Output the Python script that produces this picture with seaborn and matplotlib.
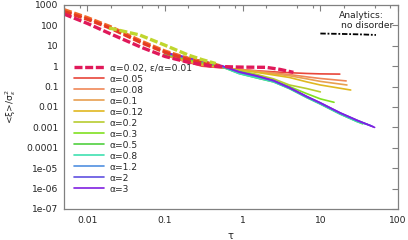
import numpy as np
import pandas as pd
import matplotlib
matplotlib.use('Agg')
import matplotlib.pyplot as plt
import matplotlib.ticker as mticker
import seaborn as sns

# --- data --------------------------------------------------------------
tau_a02 = [0.005, 0.01, 0.02, 0.05, 0.1, 0.2, 0.4, 0.7, 1.0, 2.0, 3.0, 4.5]
val_a02 = [360, 125, 38, 8.3, 3.0, 1.55, 1.0, 0.93, 0.9, 0.88, 0.7, 0.5]

tau_dash_red = [0.005, 0.01, 0.02, 0.05, 0.1, 0.2, 0.35, 0.5]
val_dash_red = [480, 200, 72, 14, 4.8, 2.1, 1.3, 1.0]
val_dash_orange = [590, 240, 85, 16.5, 5.5, 2.4, 1.45, 1.08]

tau_dash_yg = [0.019, 0.047, 0.098, 0.2, 0.3, 0.45]
val_dash_yg = [75, 34, 11, 3.5, 2.1, 1.35]

tau_base = [0.1, 0.15, 0.3, 0.55, 0.9, 1.5, 2.5, 4, 6.7, 10, 18, 30]

alphas = ['0.05', '0.08', '0.1', '0.12', '0.2', '0.3', '0.5', '0.8', '1.2', '2', '3']
tau_end = [17.8, 21.5, 22, 24.6, 10, 15, 35, 40, 45, 48, 50]
val_05 = [3.5, 2.1, 1.0, 0.82, 0.7, 0.6, 0.53, 0.48, 0.44, 0.42, 0.41]
val_08 = [3.6, 2.2, 1.1, 0.85, 0.7, 0.58, 0.47, 0.39, 0.3, 0.25, 0.19]
val_10 = [3.7, 2.3, 1.15, 0.87, 0.68, 0.55, 0.42, 0.34, 0.24, 0.18, 0.12]
val_12 = [3.8, 2.4, 1.2, 0.88, 0.66, 0.5, 0.37, 0.28, 0.17, 0.12, 0.068]
val_20 = [3.9, 2.6, 1.4, 0.9, 0.6, 0.4, 0.24, 0.12, 0.08, 0.055]
val_30 = [4.0, 2.7, 1.5, 0.9, 0.55, 0.35, 0.2, 0.1, 0.045, 0.025, 0.017]
val_50 = [4.2, 3.0, 1.7, 0.9, 0.44, 0.27, 0.17, 0.08, 0.029, 0.014, 0.0045, 0.0019, 0.0015]
val_80 = [4.3, 3.1, 1.75, 0.92, 0.43, 0.27, 0.17, 0.08, 0.029, 0.014, 0.0045, 0.0019, 0.0014]
val_120 = [4.4, 3.2, 1.75, 1.0, 0.5, 0.32, 0.19, 0.085, 0.031, 0.015, 0.0049, 0.0021, 0.0012]
val_200 = [4.5, 3.3, 1.8, 1.0, 0.52, 0.33, 0.19, 0.087, 0.032, 0.016, 0.0051, 0.0022, 0.00108]
val_300 = [4.5, 3.3, 1.8, 1.02, 0.53, 0.34, 0.2, 0.09, 0.033, 0.016, 0.0052, 0.0022, 0.001]
solid_vals = [val_05, val_08, val_10, val_12, val_20, val_30,
              val_50, val_80, val_120, val_200, val_300]
solid_colors = ['#e8463a', '#f08858', '#e8a050', '#e0b820', '#b8cc30', '#80e020',
                '#50d040', '#40e0b0', '#5090e0', '#6050e0', '#8020e0']

tau_analytic = [10, 20, 35, 52]
val_analytic = [40, 38, 36, 34]

xtick_vals = [0.01, 0.1, 1, 10, 100]
xtick_labels = ['0.01', '0.1', '1', '10', '100']
ytick_vals = [1e-7, 1e-6, 1e-5, 1e-4, 1e-3, 1e-2, 1e-1, 1, 10, 100, 1000]
ytick_labels = ['1e-07', '1e-06', '1e-05', '0.0001', '0.001', '0.01', '0.1',
                '1', '10', '100', '1000']

# --- figure -------------------------------------------------------------
sns.set_theme(style='white')
plt.rcParams['font.family'] = ['DejaVu Sans']
fs = 6.6

fig = plt.figure(figsize=(4.08, 2.40), dpi=100)
ax = fig.add_axes([64 / 408, 31 / 240, 334 / 408, 204 / 240])
ax.set_xscale('log')
ax.set_yscale('log')

# solid curves, one per alpha
handles = []
for a, vals, col, tend in zip(alphas, solid_vals, solid_colors, tau_end):
    n = len(vals)
    tau = tau_base[:n - 1] + [tend]
    df = pd.DataFrame({'tau': tau, 'val': vals})
    sns.lineplot(data=df, x='tau', y='val', ax=ax, color=col, lw=1.2,
                 sort=False, legend=False)
    handles.append(ax.lines[-1])

# dashed curves on top
dash = (0, (2.4, 0.8))
sns.lineplot(x=tau_dash_red, y=val_dash_orange, ax=ax, color='#f06a2a', lw=2.4,
             linestyle=dash, sort=False, legend=False)
sns.lineplot(x=tau_dash_red, y=val_dash_red, ax=ax, color='#e63a22', lw=2.4,
             linestyle=dash, sort=False, legend=False)
sns.lineplot(x=tau_dash_yg, y=val_dash_yg, ax=ax, color='#c0d62e', lw=2.4,
             linestyle=dash, sort=False, legend=False)
sns.lineplot(x=tau_a02, y=val_a02, ax=ax, color='#e0195a', lw=2.4,
             linestyle=dash, sort=False, legend=False)
h_a02 = ax.lines[-1]

# analytic result
sns.lineplot(x=tau_analytic, y=val_analytic, ax=ax, color='black', lw=1.3,
             linestyle=(0, (3, 1, 1, 1)), sort=False, legend=False)

ax.text((339 - 64) / 334, 1 - (15 - 5) / 204, 'Analytics:', transform=ax.transAxes,
        fontsize=fs, va='center', ha='left', color='#222222')
ax.text((341 - 64) / 334, 1 - (25 - 5) / 204, 'no disorder', transform=ax.transAxes,
        fontsize=fs, va='center', ha='left', color='#222222')

labels = ['α=0.02, ε/α=0.01'] + ['α=' + a for a in alphas]
ax.legend([h_a02] + handles, labels, loc='upper left',
          bbox_to_anchor=((74 - 64) / 334, 1 - (63.5 - 5) / 204),
          frameon=False, fontsize=fs, borderpad=0, borderaxespad=0,
          handlelength=3.3, handletextpad=0.6, labelspacing=0.22)

ax.set_xlim(0.005, 100)
ax.set_ylim(1e-7, 1000)
ax.xaxis.set_major_locator(mticker.FixedLocator(xtick_vals))
ax.set_xticklabels(xtick_labels)
ax.xaxis.set_minor_locator(mticker.LogLocator(base=10, subs=(2, 5, 8)))
ax.xaxis.set_minor_formatter(mticker.NullFormatter())
ax.yaxis.set_major_locator(mticker.FixedLocator(ytick_vals))
ax.set_yticklabels(ytick_labels)
ax.yaxis.set_minor_locator(mticker.NullLocator())

ax.tick_params(which='both', direction='in', top=True, right=True,
               color='#808080', width=0.8, labelsize=fs, labelcolor='#222222')
ax.tick_params(which='major', length=4)
ax.tick_params(which='minor', length=2)
ax.tick_params(axis='x', pad=5)
ax.tick_params(axis='y', pad=4)
for s in ax.spines.values():
    s.set_color('#808080')
    s.set_linewidth(0.9)

ax.set_xlabel('τ', fontsize=fs + 0.5, color='#222222')
ax.xaxis.set_label_coords(0.5, -0.11)
ax.set_ylabel('<ξ>/σ$_ε^2$', fontsize=fs, color='#222222')
ax.yaxis.set_label_coords(-0.138, 0.5)

plt.savefig('out.png', dpi=100)
